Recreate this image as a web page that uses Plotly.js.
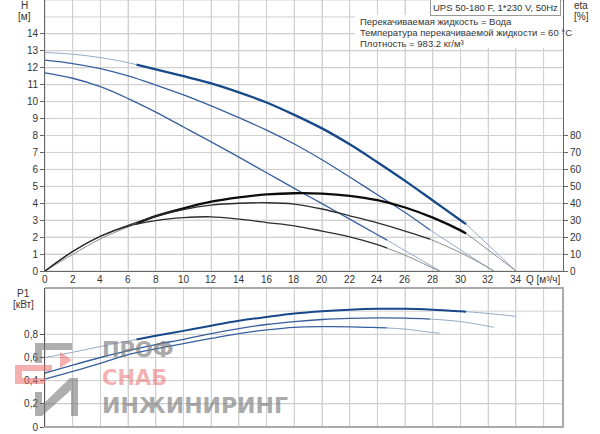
<!DOCTYPE html>
<html>
<head>
<meta charset="utf-8">
<script src="https://cdn.plot.ly/plotly-3.0.1.min.js"></script>
<style>html,body{margin:0;padding:0;background:#fff;}#chart{width:600px;height:434px;}</style>
</head>
<body>
<div id="chart"></div>
<script>
// ---- data ----
const q1 = [0,2,4,6,6.6,8,10,12,14,16,18,20,22,24,26,28,30,30.4,32,34];
const h1 = [12.9,12.8,12.6,12.3,12.18,11.9,11.5,11.08,10.55,9.95,9.22,8.42,7.48,6.42,5.32,4.16,3.0,2.77,1.54,0];
const eta1 = [0,9.8,19,26,28,32.4,37,40.9,43.5,45.2,45.9,45.7,44.4,41.8,37.5,31.5,24,22.2,12.5,0];
const p1 = [0.6,0.645,0.695,0.742,0.755,0.787,0.83,0.875,0.917,0.95,0.98,1.0,1.013,1.02,1.02,1.012,0.999,0.996,0.98,0.955];

const q2 = [0,2,4,6,8,10,12,14,16,18,20,22,24,26,27.8,30,32,32.4];
const h2 = [12.45,12.25,11.95,11.52,10.98,10.4,9.75,9.05,8.32,7.5,6.57,5.55,4.5,3.45,2.42,1.25,0.2,0];
const eta2 = [0,11.5,20.5,27,32.3,36.3,38.9,40,40.3,39.5,36.6,32.6,28.4,23.6,18.8,10.8,2,0];
const p2 = [0.466,0.535,0.6,0.66,0.712,0.757,0.807,0.85,0.885,0.91,0.928,0.938,0.942,0.94,0.932,0.91,0.87,0.86];

const q3 = [0,2,4,6,8,10,12,14,16,18,20,22,24,24.7,26,28,28.5];
const h3 = [11.7,11.38,10.88,10.18,9.38,8.5,7.62,6.72,5.8,4.88,3.98,3.06,2.14,1.82,1.2,0.25,0];
const eta3 = [0,11.5,20.5,26.5,29.8,31.5,32,30.6,28.6,26.7,23.6,20.2,15.6,13.5,9.3,1.8,0];
const p3 = [0.414,0.48,0.55,0.625,0.675,0.72,0.765,0.807,0.838,0.86,0.866,0.865,0.858,0.855,0.845,0.815,0.81];

// operating ranges (thin lines outside)
const opRange1 = [6.6, 30.4];
const opRange2 = [0, 27.8];
const opRange3 = [0, 24.7];

const qTicks = [0,2,4,6,8,10,12,14,16,18,20,22,24,26,28,30,32,34,36];
const qTickText = ['0','2','4','6','8','10','12','14','16','18','20','22','24','26','28','30','32','34','Q [м³/ч]'];
const hTicks = [0,1,2,3,4,5,6,7,8,9,10,11,12,13,14];
const hGridVals = [0,1,2,3,4,5,6,7,8,9,10,11,12,13,14,15,16];
const etaTicks = [0,10,20,30,40,50,60,70,80];
const pTicks = [0,0.2,0.4,0.6,0.8];
const pTickText = ['0','0,2','0,4','0,6','0,8'];
const pGridVals = [0,0.2,0.4,0.6,0.8,1.0,1.2];

(function drawChart(){
  const Q_MAX = 37.4, H_MAX = 16, P_MAX = 1.2;
  const GRIDC = 'rgb(208,208,208)';
  const data = [];

  function seg(q, v, lo, hi){
    const x=[], y=[];
    for(let i=0;i<q.length;i++){ if(q[i]>=lo-1e-9 && q[i]<=hi+1e-9){ x.push(q[i]); y.push(v[i]); } }
    return {x:x, y:y};
  }
  const BLUE_THICK = 'rgb(22,72,138)', BLUE_MED = 'rgb(55,95,158)', BLUE_THIN = 'rgb(150,170,202)';
  const BLK_THICK = 'rgb(12,12,12)', BLK_MED = 'rgb(45,45,45)', BLK_THIN = 'rgb(140,140,140)';

  function addCurve(q, v, rng, xa, ya, colMain, wMain, colThin){
    const qmax = q[q.length-1];
    const parts = [
      [seg(q,v,0,rng[0]), colThin, 1],
      [seg(q,v,rng[0],rng[1]), colMain, wMain],
      [seg(q,v,rng[1],qmax), colThin, 1]
    ];
    parts.forEach(function(p){
      if(p[0].x.length>1){
        data.push({type:'scatter', mode:'lines', x:p[0].x, y:p[0].y, xaxis:xa, yaxis:ya,
          line:{color:p[1], width:p[2], shape:'spline', smoothing:1}, showlegend:false, hoverinfo:'skip'});
      }
    });
  }
  addCurve(q1,h1,opRange1,'x','y',BLUE_THICK,2.3,BLUE_THIN);
  addCurve(q2,h2,opRange2,'x','y',BLUE_MED,1.3,BLUE_THIN);
  addCurve(q3,h3,opRange3,'x','y',BLUE_MED,1.3,BLUE_THIN);
  addCurve(q1,eta1,opRange1,'x','y3',BLK_THICK,2.3,BLK_THIN);
  addCurve(q2,eta2,opRange2,'x','y3',BLK_MED,1.3,BLK_THIN);
  addCurve(q3,eta3,opRange3,'x','y3',BLK_MED,1.3,BLK_THIN);
  addCurve(q1,p1,opRange1,'x2','y2',BLUE_THICK,2.0,BLUE_THIN);
  addCurve(q2,p2,opRange2,'x2','y2',BLUE_MED,1.3,BLUE_THIN);
  addCurve(q3,p3,opRange3,'x2','y2',BLUE_MED,1.3,BLUE_THIN);

  const mL=45, mR=37, mT=0, mB=7, figW=600, figH=434;
  const plotW = figW-mL-mR, plotH = figH-mT-mB;
  const toPX = function(x){ return (x-mL)/plotW; };
  const toPY = function(y){ return (plotH-(y-mT))/plotH; };

  const FAM = 'Liberation Sans, Arial, sans-serif';
  const mkFont = function(s,c){ return {family:FAM, size:s||10, color:c||'#333'}; };

  function txt(text, x, y, opts){
    return Object.assign({text:text, x:toPX(x), y:toPY(y), xref:'paper', yref:'paper', showarrow:false,
      xanchor:'center', yanchor:'middle', font:mkFont(10)}, opts||{});
  }
  const WM = 'DejaVu Sans, sans-serif';
  const annotations = [
    txt('H', 24, 5),
    txt('[м]', 24, 16),
    txt('eta', 581, 5),
    txt('[%]', 581, 16),
    txt('P1', 23, 293),
    txt('[кВт]', 23, 304),
    txt('UPS 50-180 F, 1*230 V, 50Hz', 561, 7, {xanchor:'right', font:mkFont(9.5),
        bgcolor:'#fff', bordercolor:'#999', borderwidth:1, borderpad:2}),
    txt('Перекачиваемая жидкость = Вода', 358, 22, {xanchor:'left', font:mkFont(9.5)}),
    txt('Температура перекачиваемой жидкости = 60 °C', 358, 32.5, {xanchor:'left', font:mkFont(9.5)}),
    txt('Плотность = 983.2 кг/м³', 358, 43, {xanchor:'left', font:mkFont(9.5)}),
    txt('ПРОФ', 100, 350, {xanchor:'left', font:{family:WM, size:21, weight:'bold', color:'rgba(120,120,120,0.65)'}}),
    txt('СНАБ', 100, 378, {xanchor:'left', font:{family:WM, size:21, weight:'bold', color:'rgba(235,110,110,0.55)'}}),
    txt('ИНЖИНИРИНГ', 100, 405, {xanchor:'left', font:{family:WM, size:22, weight:'bold', color:'rgba(120,120,120,0.65)'}})
  ];
  qTicks.forEach(function(v, i){
    annotations.push({text:qTickText[i], x:v, xref:'x', y:toPY(279), yref:'paper', showarrow:false,
      xanchor:'center', yanchor:'middle', font:mkFont(10)});
  });

  const frameTop = toPY(288);
  const shapes = [];
  // grid lines drawn as shapes tied to the axes, below the curves
  qTicks.forEach(function(v){
    shapes.push({type:'line', xref:'x', yref:'y domain', x0:v, x1:v, y0:0, y1:1, line:{color:GRIDC, width:1}, layer:'below'});
    shapes.push({type:'line', xref:'x2', yref:'y2 domain', x0:v, x1:v, y0:0, y1:1, line:{color:GRIDC, width:1}, layer:'below'});
  });
  hGridVals.forEach(function(v){
    shapes.push({type:'line', xref:'x domain', yref:'y', x0:0, x1:1, y0:v, y1:v, line:{color:GRIDC, width:1}, layer:'below'});
  });
  pGridVals.forEach(function(v){
    shapes.push({type:'line', xref:'x2 domain', yref:'y2', x0:0, x1:1, y0:v, y1:v, line:{color:GRIDC, width:1}, layer:'below'});
  });
  shapes.push(
    {type:'rect', xref:'paper', yref:'paper', x0:toPX(355), x1:toPX(562), y0:toPY(48), y1:toPY(15), fillcolor:'#fff', line:{width:0}, layer:'above'},
    {type:'path', xref:'paper', yref:'paper', layer:'above', line:{color:'rgb(170,170,170)', width:2},
      path:'M 0 '+frameTop+' L 1 '+frameTop+' L 1 0 L 0 0'},
    {type:'path', xref:'paper', yref:'paper', layer:'above', line:{width:0}, fillcolor:'rgba(120,120,120,0.6)',
      path:'M '+toPX(35)+' '+toPY(343)+' L '+toPX(72)+' '+toPY(343)+' L '+toPX(72)+' '+toPY(350)+' L '+toPX(42)+' '+toPY(350)+' L '+toPX(42)+' '+toPY(363)+' L '+toPX(35)+' '+toPY(363)+' Z'},
    {type:'path', xref:'paper', yref:'paper', layer:'above', line:{width:0}, fillcolor:'rgba(235,110,110,0.55)',
      path:'M '+toPX(15)+' '+toPY(365)+' L '+toPX(52)+' '+toPY(365)+' L '+toPX(52)+' '+toPY(371)+' L '+toPX(22)+' '+toPY(371)+' L '+toPX(22)+' '+toPY(378)+' L '+toPX(45)+' '+toPY(378)+' L '+toPX(45)+' '+toPY(384)+' L '+toPX(15)+' '+toPY(384)+' Z'},
    {type:'path', xref:'paper', yref:'paper', layer:'above', line:{width:0}, fillcolor:'rgba(235,110,110,0.55)',
      path:'M '+toPX(60)+' '+toPY(352)+' L '+toPX(72)+' '+toPY(360)+' L '+toPX(60)+' '+toPY(368)+' Z'},
    {type:'path', xref:'paper', yref:'paper', layer:'above', line:{width:0}, fillcolor:'rgba(120,120,120,0.6)',
      path:'M '+toPX(35)+' '+toPY(392)+' L '+toPX(42)+' '+toPY(392)+' L '+toPX(42)+' '+toPY(405)+' L '+toPX(70)+' '+toPY(378)+' L '+toPX(78)+' '+toPY(378)+' L '+toPX(78)+' '+toPY(416)+' L '+toPX(71)+' '+toPY(416)+' L '+toPX(71)+' '+toPY(390)+' L '+toPX(42)+' '+toPY(416)+' L '+toPX(35)+' '+toPY(416)+' Z'}
  );

  const layoutObj = {
    width: figW, height: figH,
    margin: {l:mL, r:mR, t:mT, b:mB},
    paper_bgcolor:'#fff', plot_bgcolor:'rgba(0,0,0,0)',
    showlegend:false,
    font: mkFont(10),
    xaxis: {domain:[0,1], range:[0,Q_MAX], anchor:'y', showticklabels:false, ticks:'',
      tickmode:'array', tickvals:qTicks, showgrid:true, gridcolor:GRIDC, zeroline:false,
      showline:true, linecolor:'#666', linewidth:1},
    yaxis: {domain:[toPY(271),1], range:[0,H_MAX], anchor:'x', tickmode:'array', tickvals:hTicks,
      showgrid:true, gridcolor:GRIDC, zeroline:false, showline:true, linecolor:'#666', linewidth:1,
      ticks:'outside', ticklen:4, tickcolor:'#666', tickfont:mkFont(10)},
    yaxis3: {overlaying:'y', side:'right', anchor:'x', range:[0,160], tickmode:'array', tickvals:etaTicks,
      showgrid:false, zeroline:false, showline:true, linecolor:'#666', linewidth:1,
      ticks:'outside', ticklen:4, tickcolor:'#666', tickfont:mkFont(10)},
    xaxis2: {domain:[0,1], range:[0,Q_MAX], anchor:'y2', showticklabels:false, ticks:'',
      tickmode:'array', tickvals:qTicks, showgrid:true, gridcolor:GRIDC, zeroline:false, showline:false},
    yaxis2: {domain:[0,frameTop], range:[0,P_MAX], anchor:'x2', tickmode:'array', tickvals:pTicks, ticktext:pTickText,
      showgrid:true, gridcolor:GRIDC, zeroline:false, showline:true, linecolor:'#555', linewidth:1,
      ticks:'outside', ticklen:4, tickcolor:'#555', tickfont:mkFont(10)},
    annotations: annotations,
    shapes: shapes
  };

  Plotly.newPlot('chart', data, layoutObj, {displayModeBar:false});
})();
</script>
</body>
</html>
